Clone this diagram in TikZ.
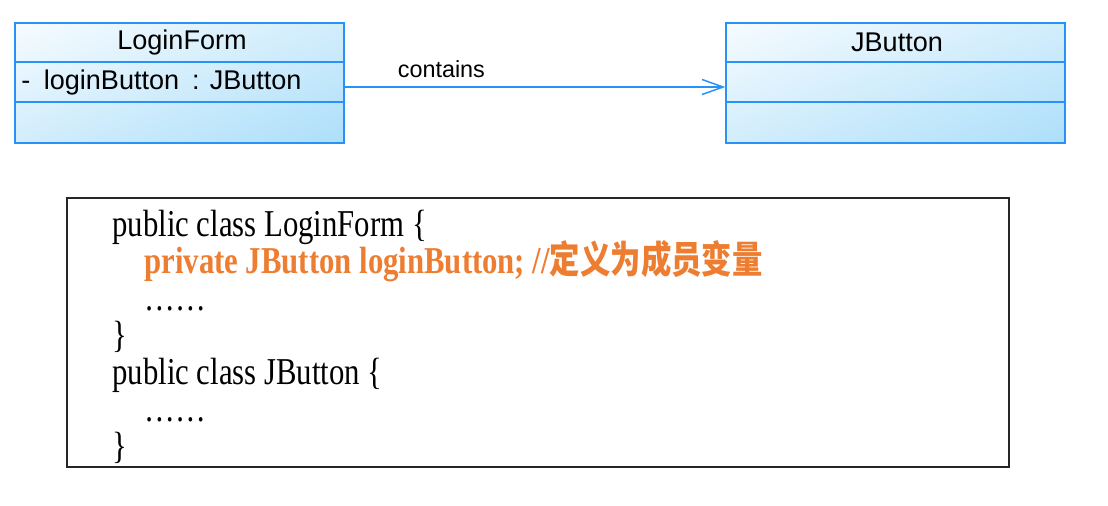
\documentclass[tikz,border=0pt]{standalone}
\usepackage{fontspec}
\setmainfont{Liberation Sans}
\newfontfamily\codefont{Liberation Serif}[FakeStretch=0.81]
\newfontfamily\cjk{Noto Sans CJK SC}[FakeStretch=0.8]
\usetikzlibrary{arrows.meta,positioning,shadings}
\definecolor{umledge}{RGB}{41,146,246}
\definecolor{umllight}{RGB}{246,251,255}
\definecolor{umlmid}{RGB}{210,237,252}
\definecolor{umldark}{RGB}{172,223,250}
\definecolor{codeorange}{RGB}{237,125,49}

\begin{document}
\begin{tikzpicture}[
  x=0.02cm, y=-0.02cm,
  font=\fontsize{15.4}{18}\selectfont,
  >={Straight Barb[length=0.42cm, width=0.3cm]},
  umlbox/.style={draw=umledge, line width=0.03cm, inner sep=0pt, minimum height=2.4cm,
    upper left=umllight, upper right=umlmid, lower left=umlmid, lower right=umldark},
  umlsep/.style={draw=umledge, line width=0.03cm},
  assoc/.style={->, draw=umledge, line width=0.03cm},
  codebox/.style={draw=black!85, line width=0.03cm, minimum width=18.84cm, minimum height=5.38cm, inner sep=0pt},
  codetext/.style={align=left, inner sep=0pt, font=\codefont\fontsize{21.6}{21}\selectfont}
]
  \useasboundingbox (0,0) rectangle (1108,505);

  % class boxes
  \node[umlbox, minimum width=6.58cm] (lf) at (179.5,83) {};
  \node[umlbox, minimum width=6.78cm] (jb) at (895.5,83) {};
  \draw[umlsep] (lf.west |- 0,62) -- (lf.east |- 0,62);
  \draw[umlsep] (lf.west |- 0,102) -- (lf.east |- 0,102);
  \draw[umlsep] (jb.west |- 0,62) -- (jb.east |- 0,62);
  \draw[umlsep] (jb.west |- 0,102) -- (jb.east |- 0,102);
  \node (lfname) at (182,42) {LoginForm};
  \node (jbname) at (897,42) {JButton};
  \node[anchor=base west, inner sep=0pt] (lfattr) at (21,89) {-\hspace{0.27cm}loginButton\hspace{0.26cm}: JButton};

  \draw[assoc] ([yshift=-0.08cm]lf.east) -- node[pos=0.254, above=0.06cm, font=\fontsize{13.3}{16}\selectfont]{contains} ([yshift=-0.08cm]jb.west);

  % code
  \node[codebox] (code) at (538,332.5) {};
  \node[codetext, anchor=north west] (src) at (112,210) {%
    public class LoginForm \{\\
    \hspace*{0.64cm}{\color{codeorange}\bfseries private JButton loginButton; //{\cjk\smash{定义为成员变量}}}\\
    \hspace*{0.64cm}……\\
    \}\\
    public class JButton \{\\
    \hspace*{0.64cm}……\\
    \}};
\end{tikzpicture}
\end{document}
